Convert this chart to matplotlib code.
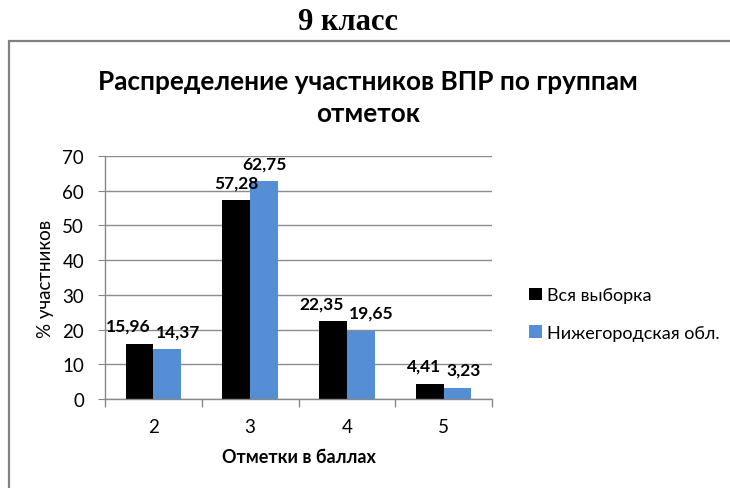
import numpy as np
import matplotlib
matplotlib.use('Agg')
from matplotlib import pyplot as plt
from matplotlib.patches import Rectangle

# данные
categories = ['2', '3', '4', '5']
all_sample = [15.96, 57.28, 22.35, 4.41]
nizhny = [14.37, 62.75, 19.65, 3.23]
series_names = ['Вся выборка', 'Нижегородская обл.']
yticks = [0, 10, 20, 30, 40, 50, 60, 70]

plt.rcParams['font.family'] = ['Lato', 'Open Sans', 'DejaVu Sans']

fig = plt.figure(figsize=(7.3, 4.89), dpi=100)

# рамка диаграммы
fig.patches.append(Rectangle((8.5 / 730, -0.1), 1.0, 1 - 42 / 489 + 0.1,
                             transform=fig.transFigure, fill=False,
                             edgecolor='#808080', linewidth=1.6))

fig.text(348 / 730, 1 - 23 / 489, '9 класс', ha='center', va='center',
         family='Liberation Serif', fontweight='bold', fontsize=22)
fig.text(368 / 730, 1 - 98 / 489, 'Распределение участников ВПР по группам\nотметок',
         ha='center', va='center', fontsize=18.8, fontweight='bold',
         linespacing=1.42)

ax = fig.add_axes([105 / 730, 1 - 400 / 489, 387 / 730, 243 / 489])

x = np.arange(len(categories))
w = 1 / 3.5
b1 = ax.bar(x - w / 2, all_sample, w, color='#000000', label=series_names[0])
b2 = ax.bar(x + w / 2, nizhny, w, color='#558ed5', label=series_names[1])

# подписи данных (разносим соседние, если они на одной высоте)
for i in range(len(categories)):
    for vals, bars, s in ((all_sample, b1, -1), (nizhny, b2, 1)):
        r = bars[i]
        txt = f'{vals[i]:.2f}'.replace('.', ',')
        dx = 0
        if abs(all_sample[i] - nizhny[i]) < 4:
            dx = max(0, (len(txt) * 10 - 28) / 2)
        ax.annotate(txt, (r.get_x() + r.get_width() / 2, vals[i]),
                    xytext=(s * dx * 0.72, 13), textcoords='offset points',
                    ha='center', va='center', fontsize=12.5, fontweight='bold')

ax.set_xlim(-0.5, len(categories) - 0.5)
ax.set_ylim(0, 70)
ax.set_yticks(yticks)
ax.set_xticks(x)
ax.set_xticklabels(categories)
ax.set_xticks(np.arange(len(categories) + 1) - 0.5, minor=True)
ax.tick_params(axis='x', which='major', length=0, pad=14, labelsize=13.5)
ax.tick_params(axis='x', which='minor', length=6, color='#888888', width=1)
ax.tick_params(axis='y', length=5, color='#888888', labelsize=13.5, pad=10)
ax.yaxis.grid(True, color='#8c8c8c', linewidth=1)
ax.set_axisbelow(True)
for s in ('top', 'right'):
    ax.spines[s].set_visible(False)
for s in ('left', 'bottom'):
    ax.spines[s].set_color('#888888')
    ax.spines[s].set_linewidth(1)

ax.set_ylabel('% участников', fontsize=13.5, labelpad=6)
ax.set_xlabel('Отметки в баллах', fontsize=13, fontweight='bold', labelpad=9)

ax.legend(loc='center left', bbox_to_anchor=(529 / 730, 1 - 315 / 489),
          bbox_transform=fig.transFigure, frameon=False, fontsize=13,
          borderpad=0, borderaxespad=0,
          handlelength=0.7, handleheight=0.7, handletextpad=0.3,
          labelspacing=1.2)

plt.savefig('out.png', dpi=100)
